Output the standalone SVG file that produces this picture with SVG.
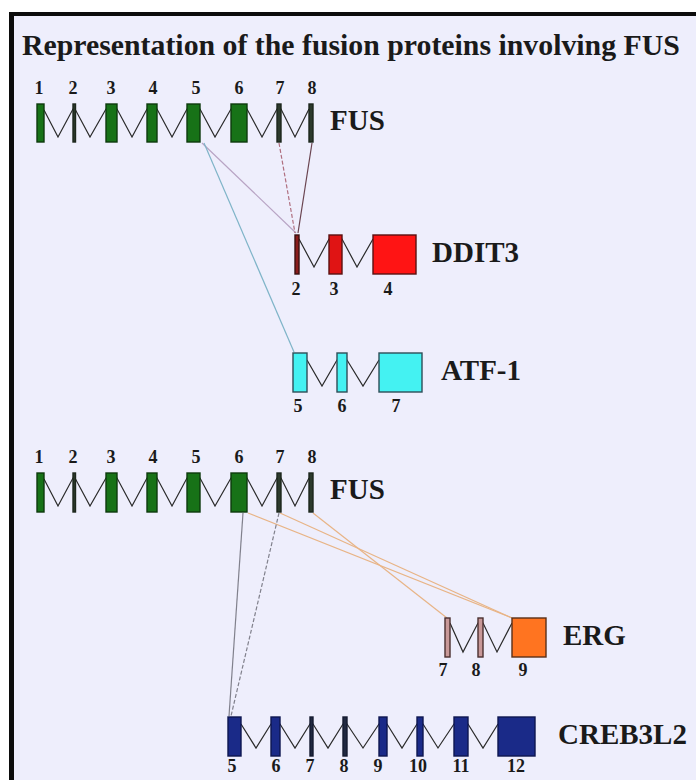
<svg xmlns="http://www.w3.org/2000/svg" width="696" height="780" viewBox="0 0 696 780">
  <style>
    .title { font-family: "Liberation Serif", "Times New Roman", serif; font-weight: bold; font-size: 29.8px; fill: #1a1a1a; }
    .gene { font-family: "Liberation Serif", "Times New Roman", serif; font-weight: bold; font-size: 29px; fill: #1a1a1a; }
    .num { font-family: "Liberation Serif", "Times New Roman", serif; font-weight: bold; font-size: 18px; fill: #1a1a1a; text-anchor: middle; }
    .intron { fill: none; stroke: #2a2a2a; stroke-width: 1.2; stroke-linejoin: miter; }
    .exon { stroke-width: 1.4; }
    .fus { fill: #177217; stroke: #0d3a0d; }
    .fus-thin { fill: #2c3a2c; stroke: #1c261c; }
    .ddit3 { fill: #ff1414; stroke: #5a1010; }
    .ddit3-thin { fill: #8a1c1c; stroke: #3a1010; }
    .atf1 { fill: #44f2f2; stroke: #2e4e58; }
    .erg { fill: #ff7420; stroke: #5a3018; }
    .erg-thin { fill: #c89898; stroke: #4a3030; }
    .creb { fill: #1a2a88; stroke: #0e1650; }
    .creb-thin { fill: #202840; stroke: #141a30; }
    .link { fill: none; stroke-width: 1.2; }
  </style>

  <!-- frame and panel background -->
  <rect x="0" y="0" width="696" height="780" fill="#ffffff"/>
  <rect x="9" y="12" width="687" height="768" fill="#0c0c0c"/>
  <rect x="14" y="16" width="682" height="764" fill="#eeeefc"/>

  <text class="title" x="22" y="55">Representation of the fusion proteins involving FUS</text>

  <!-- connectors between fused exons -->
  <g id="connectors">
    <line class="link" x1="202" y1="143" x2="296" y2="233" stroke="#b8a4c4"/>
    <line class="link" x1="204" y1="143" x2="294" y2="352" stroke="#7fb4c8"/>
    <line class="link" x1="279" y1="143" x2="295" y2="233" stroke="#b07080" stroke-dasharray="4 2"/>
    <line class="link" x1="312" y1="143" x2="298" y2="233" stroke="#6a4450"/>

    <line class="link" x1="248" y1="513" x2="512" y2="618" stroke="#e8b486" stroke-width="1.6"/>
    <line class="link" x1="280" y1="513" x2="512" y2="618" stroke="#e8b486" stroke-width="1.6"/>
    <line class="link" x1="313" y1="513" x2="447" y2="618" stroke="#e8b486" stroke-width="1.6"/>
    <line class="link" x1="243" y1="513" x2="229" y2="716" stroke="#80808c"/>
    <line class="link" x1="279" y1="513" x2="231" y2="716" stroke="#80808c" stroke-dasharray="4 2"/>
  </g>

  <!-- FUS, upper copy -->
  <g id="fus-upper">
    <polyline class="intron" points="44,110 58,137 73,109 75,109 90,137 106,109 117,109 132,137 147,109 157,109 172,137 187,109 200,109 215,137 231,109 247,109 262,137 277,109 281,109 295,137 309,109"/>
    <rect class="exon fus" x="37" y="104" width="7" height="38"/>
    <rect class="exon fus-thin" x="73" y="104" width="2.5" height="38"/>
    <rect class="exon fus" x="106" y="104" width="11" height="38"/>
    <rect class="exon fus" x="147" y="104" width="10" height="38"/>
    <rect class="exon fus" x="187" y="104" width="13" height="38"/>
    <rect class="exon fus" x="231" y="104" width="16" height="38"/>
    <rect class="exon fus-thin" x="277" y="104" width="4" height="38"/>
    <rect class="exon fus-thin" x="309" y="104" width="4" height="38"/>
    <text class="num" x="39" y="94">1</text>
    <text class="num" x="73" y="94">2</text>
    <text class="num" x="111" y="94">3</text>
    <text class="num" x="153" y="94">4</text>
    <text class="num" x="196" y="94">5</text>
    <text class="num" x="239" y="94">6</text>
    <text class="num" x="280" y="94">7</text>
    <text class="num" x="312" y="94">8</text>
    <text class="gene" x="330" y="130">FUS</text>
  </g>

  <!-- DDIT3 -->
  <g id="ddit3">
    <polyline class="intron" points="299,239 314,267 329,239 342,239 357,267 373,239"/>
    <rect class="exon ddit3-thin" x="295" y="235" width="4" height="39"/>
    <rect class="exon ddit3" x="329" y="235" width="13" height="39" style="fill:#e01414"/>
    <rect class="exon ddit3" x="373" y="235" width="43" height="39"/>
    <text class="num" x="296" y="295">2</text>
    <text class="num" x="334" y="295">3</text>
    <text class="num" x="388" y="295">4</text>
    <text class="gene" x="432" y="262">DDIT3</text>
  </g>

  <!-- ATF-1 -->
  <g id="atf1">
    <polyline class="intron" points="307,360 322,386 337,360 347,360 363,386 379,360"/>
    <rect class="exon atf1" x="293" y="353" width="14" height="39"/>
    <rect class="exon atf1" x="337" y="353" width="10" height="39"/>
    <rect class="exon atf1" x="379" y="353" width="43" height="39"/>
    <text class="num" x="298" y="412">5</text>
    <text class="num" x="342" y="412">6</text>
    <text class="num" x="396" y="412">7</text>
    <text class="gene" x="441" y="380">ATF-1</text>
  </g>

  <!-- FUS, lower copy -->
  <g id="fus-lower" transform="translate(0,369)">
    <polyline class="intron" points="44,110 58,137 73,109 75,109 90,137 106,109 117,109 132,137 147,109 157,109 172,137 187,109 200,109 215,137 231,109 247,109 262,137 277,109 281,109 295,137 309,109"/>
    <rect class="exon fus" x="37" y="104" width="7" height="39"/>
    <rect class="exon fus-thin" x="73" y="104" width="2.5" height="39"/>
    <rect class="exon fus" x="106" y="104" width="11" height="39"/>
    <rect class="exon fus" x="147" y="104" width="10" height="39"/>
    <rect class="exon fus" x="187" y="104" width="13" height="39"/>
    <rect class="exon fus" x="231" y="104" width="16" height="39"/>
    <rect class="exon fus-thin" x="277" y="104" width="4" height="39"/>
    <rect class="exon fus-thin" x="309" y="104" width="4" height="39"/>
    <text class="num" x="39" y="94">1</text>
    <text class="num" x="73" y="94">2</text>
    <text class="num" x="111" y="94">3</text>
    <text class="num" x="153" y="94">4</text>
    <text class="num" x="196" y="94">5</text>
    <text class="num" x="239" y="94">6</text>
    <text class="num" x="280" y="94">7</text>
    <text class="num" x="312" y="94">8</text>
    <text class="gene" x="330" y="130">FUS</text>
  </g>

  <!-- ERG -->
  <g id="erg">
    <polyline class="intron" points="450,623 463,652 478,623 483,623 497,652 512,623"/>
    <rect class="exon erg-thin" x="445" y="618" width="5" height="39"/>
    <rect class="exon erg-thin" x="478" y="618" width="5" height="39"/>
    <rect class="exon erg" x="512" y="618" width="34" height="39"/>
    <text class="num" x="443" y="676">7</text>
    <text class="num" x="476" y="676">8</text>
    <text class="num" x="523" y="676">9</text>
    <text class="gene" x="563" y="645">ERG</text>
  </g>

  <!-- CREB3L2 -->
  <g id="creb3l2">
    <polyline class="intron" points="241,724 256,748 271,724 280,724 295,748 310,724 313,724 328,748 343,724 347,724 363,748 379,724 387,724 402,748 417,724 423,724 438,748 454,724 468,724 483,748 498,724"/>
    <rect class="exon creb" x="228" y="717" width="13" height="39"/>
    <rect class="exon creb" x="271" y="717" width="9" height="39"/>
    <rect class="exon creb-thin" x="310" y="717" width="3" height="39"/>
    <rect class="exon creb-thin" x="343" y="717" width="4" height="39"/>
    <rect class="exon creb" x="379" y="717" width="8" height="39"/>
    <rect class="exon creb" x="417" y="717" width="6" height="39"/>
    <rect class="exon creb" x="454" y="717" width="14" height="39"/>
    <rect class="exon creb" x="498" y="717" width="37" height="39"/>
    <text class="num" x="232" y="772">5</text>
    <text class="num" x="276" y="772">6</text>
    <text class="num" x="310" y="772">7</text>
    <text class="num" x="344" y="772">8</text>
    <text class="num" x="378" y="772">9</text>
    <text class="num" x="418" y="772">10</text>
    <text class="num" x="461" y="772">11</text>
    <text class="num" x="516" y="772">12</text>
    <text class="gene" x="558" y="744">CREB3L2</text>
  </g>
</svg>
